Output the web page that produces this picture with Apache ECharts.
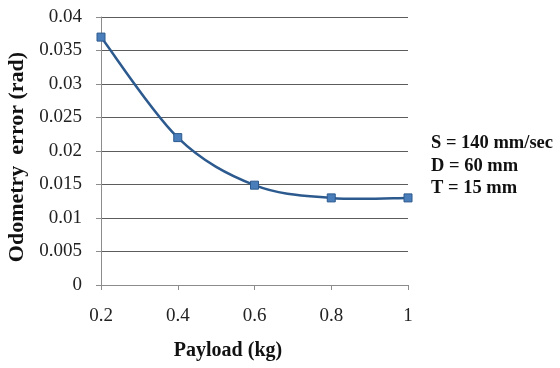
<!DOCTYPE html>
<html>
<head>
<meta charset="utf-8">
<script src="https://cdn.jsdelivr.net/npm/echarts@6/dist/echarts.min.js"></script>
<style>
  html, body { margin: 0; padding: 0; background: #fff; }
  #chart { width: 560px; height: 368px; }
</style>
</head>
<body>
<div id="chart"></div>
<script>
// Payload (kg) vs odometry error (rad)
const payload = [0.2, 0.4, 0.6, 0.8, 1.0];
const odometryError = [0.037, 0.022, 0.0149, 0.013, 0.013];
const conditions = ['S = 140 mm/sec', 'D = 60 mm', 'T = 15 mm'];

const serif = '"Liberation Serif", "Times New Roman", serif';
const lineColor = '#2c5a8e';
const chart = echarts.init(document.getElementById('chart'), null, { renderer: 'canvas' });

// Smooth curve through the points (cardinal spline as cubic Bezier segments),
// positioned with the grid's own coordinate system.
function renderCurve(params, api) {
  const pts = payload.map((x, i) => api.coord([x, odometryError[i]]));
  const n = pts.length;
  const P = i => pts[Math.max(0, Math.min(n - 1, i))];
  let d = 'M' + pts[0][0] + ' ' + pts[0][1];
  for (let i = 0; i < n - 1; i++) {
    const p0 = P(i - 1), p1 = P(i), p2 = P(i + 1), p3 = P(i + 2);
    const c1 = [p1[0] + (p2[0] - p0[0]) / 6, p1[1] + (p2[1] - p0[1]) / 6];
    const c2 = [p2[0] - (p3[0] - p1[0]) / 6, p2[1] - (p3[1] - p1[1]) / 6];
    d += ' C' + c1[0] + ' ' + c1[1] + ' ' + c2[0] + ' ' + c2[1] + ' ' + p2[0] + ' ' + p2[1];
  }
  return {
    type: 'path',
    shape: { pathData: d },
    style: { fill: null, stroke: lineColor, lineWidth: 2.5 }
  };
}

chart.setOption({
  animation: false,
  backgroundColor: '#ffffff',
  grid: { left: 101, right: 152, top: 17, bottom: 83, containLabel: false },
  xAxis: {
    type: 'value',
    min: 0.2,
    max: 1,
    interval: 0.2,
    axisLine: { show: true, lineStyle: { color: '#8c8c8c', width: 1 } },
    axisTick: { show: true, length: 5, inside: false, lineStyle: { color: '#8c8c8c' } },
    axisLabel: {
      color: '#222', fontFamily: serif, fontSize: 19, margin: 22,
      formatter: v => String(Math.round(v * 10) / 10)
    },
    splitLine: { show: false }
  },
  yAxis: {
    type: 'value',
    min: 0,
    max: 0.04,
    interval: 0.005,
    axisLine: { show: true, lineStyle: { color: '#8c8c8c', width: 1 } },
    axisTick: { show: true, length: 5, lineStyle: { color: '#8c8c8c' } },
    axisLabel: {
      color: '#222', fontFamily: serif, fontSize: 19, margin: 19,
      formatter: v => String(Math.round(v * 1000) / 1000)
    },
    splitLine: { show: true, lineStyle: { color: '#5c5c5c', width: 1 } }
  },
  series: [
    {
      type: 'custom',
      renderItem: renderCurve,
      data: [[payload[0], odometryError[0]]],
      silent: true,
      z: 2
    },
    {
      type: 'scatter',
      data: payload.map((x, i) => [x, odometryError[i]]),
      symbol: 'rect',
      symbolSize: 8,
      itemStyle: { color: '#4a7ebb', borderColor: lineColor, borderWidth: 1, opacity: 1 },
      z: 3
    }
  ],
  graphic: [
    {
      type: 'text', x: 228, y: 351,
      style: { text: 'Payload (kg)', font: 'bold 20px ' + serif, fill: '#111',
               align: 'center', verticalAlign: 'middle' }
    },
    {
      type: 'text', x: 17, y: 157, rotation: Math.PI / 2,
      style: { text: 'Odometry  error (rad)', font: 'bold 22px ' + serif, fill: '#111',
               align: 'center', verticalAlign: 'middle' }
    },
    {
      type: 'text', left: 431, top: 132,
      style: { text: conditions.join('\n'), font: 'bold 18.5px ' + serif, fill: '#111',
               lineHeight: 22.5 }
    }
  ]
});
</script>
</body>
</html>
